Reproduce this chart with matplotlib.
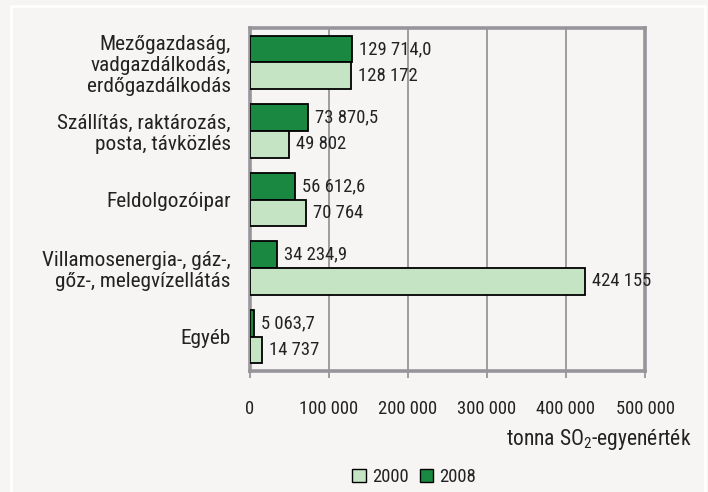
import numpy as np
import matplotlib.pyplot as plt
from matplotlib.patches import Rectangle, Patch

# adatok (felülről lefelé)
categories = [
    "Mezőgazdaság,\nvadgazdálkodás,\nerdőgazdálkodás",
    "Szállítás, raktározás,\nposta, távközlés",
    "Feldolgozóipar",
    "Villamosenergia-, gáz-,\ngőz-, melegvízellátás",
    "Egyéb",
]
vals_2000 = [128172, 49802, 70764, 424155, 14737]
vals_2008 = [129714.0, 73870.5, 56612.6, 34234.9, 5063.7]
labels_2000 = ["128 172", "49 802", "70 764", "424 155", "14 737"]
labels_2008 = ["129 714,0", "73 870,5", "56 612,6", "34 234,9", "5 063,7"]
xticks = [0, 100000, 200000, 300000, 400000, 500000]
xtick_labels = ["0", "100 000", "200 000", "300 000", "400 000", "500 000"]

plt.rcParams['font.family'] = ['Roboto Condensed', 'DejaVu Sans']
plt.rcParams['mathtext.fontset'] = 'custom'
plt.rcParams['mathtext.rm'] = 'Roboto Condensed'

BG = '#f6f5f3'
DARK = '#1a8840'
LIGHT = '#c5e4c3'
GRID = '#96959a'
TXT = '#222222'

fig = plt.figure(figsize=(7.08, 4.92), dpi=100, facecolor=BG)
ax = fig.add_axes([250 / 708, 1 - 371 / 492, 395 / 708, 343 / 492])
ax.set_facecolor(BG)

# fehér keret
fig.patches.append(Rectangle((11 / 708, -0.05), 694 / 708, 1.05 - 6 / 492,
                             transform=fig.transFigure, fill=False,
                             edgecolor='white', lw=2, zorder=0))

y = np.arange(len(categories))
h = 0.39
ax.barh(y - h / 2, vals_2008, height=h, color=DARK, edgecolor='black', lw=1.3, zorder=3)
ax.barh(y + h / 2, vals_2000, height=h, color=LIGHT, edgecolor='black', lw=1.3, zorder=3)

for i in range(len(categories)):
    ax.annotate(labels_2008[i], (vals_2008[i], y[i] - h / 2), xytext=(5, 0),
                textcoords='offset points', va='center', ha='left',
                fontsize=13.4, color=TXT, zorder=4)
    ax.annotate(labels_2000[i], (vals_2000[i], y[i] + h / 2), xytext=(5, 0),
                textcoords='offset points', va='center', ha='left',
                fontsize=13.4, color=TXT, zorder=4)

ax.set_ylim(len(categories) - 0.5, -0.5)
ax.set_xlim(0, 500000)
ax.set_yticks(y)
ax.set_yticklabels(categories, fontsize=15.3, color=TXT, linespacing=1.15)
ax.tick_params(axis='y', length=0, pad=14)
ax.set_xticks(xticks)
ax.set_xticklabels(xtick_labels, fontsize=13.4, color=TXT)
ax.tick_params(axis='x', length=5, width=1.3, color=GRID, direction='out', pad=16)
ax.xaxis.grid(True, color=GRID, lw=1.3, zorder=0)
ax.set_axisbelow(True)
for sp in ax.spines.values():
    sp.set_color(GRID)
    sp.set_linewidth(2.6)

fig.text(692 / 708, 1 - 440 / 492, "tonna SO$_\\mathrm{2}$-egyenérték", ha='right', va='center',
         fontsize=15.5, color=TXT)

handles = [Patch(facecolor=LIGHT, edgecolor='black', label='2000'),
           Patch(facecolor=DARK, edgecolor='black', label='2008')]
fig.legend(handles=handles, loc='center', bbox_to_anchor=(414 / 708, 1 - 477 / 492),
           ncol=2, frameon=False, fontsize=13.4, handlelength=0.75, handleheight=0.75,
           handletextpad=0.32, columnspacing=0.6, labelcolor=TXT)

fig.savefig('out.png', dpi=100, facecolor=BG)
